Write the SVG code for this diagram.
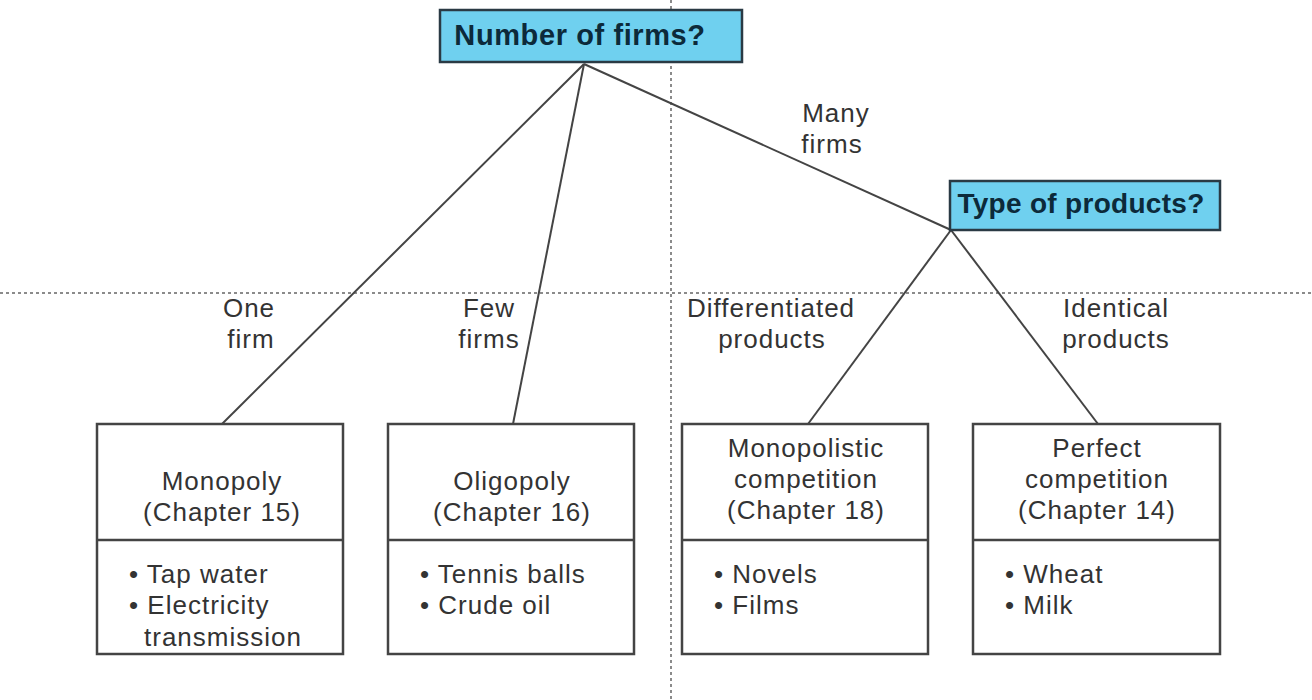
<svg xmlns="http://www.w3.org/2000/svg" width="1312" height="700" viewBox="0 0 1312 700">
<style>
.t{font-family:"Liberation Sans",Arial,sans-serif;font-size:26px;letter-spacing:1px;fill:#333;text-anchor:middle}
.b{font-family:"Liberation Sans",Arial,sans-serif;font-size:26px;letter-spacing:1px;fill:#333}
.q{font-family:"Liberation Sans",Arial,sans-serif;font-size:29px;letter-spacing:0.6px;font-weight:bold;fill:#0c2a3a;text-anchor:middle}
.q2{font-size:28px;letter-spacing:0.3px}
.box{fill:#fff;stroke:#444;stroke-width:2.5}
.qb{fill:#6fd0ef;stroke:#2a3a44;stroke-width:2.5}
.c{stroke:#444;stroke-width:2;fill:none}
.div{stroke:#444;stroke-width:2.5;fill:none}
.d{stroke:#666;stroke-width:1.5;stroke-dasharray:3 3;fill:none}
</style>
<rect width="1312" height="700" fill="#fff"/>
<g id="guides">
<line class="d" x1="671" y1="0" x2="671" y2="700"/>
<line class="d" x1="0" y1="293" x2="1312" y2="293"/>
</g>
<g id="connectors">
<line class="c" x1="584" y1="64" x2="222" y2="424"/>
<line class="c" x1="584" y1="64" x2="513" y2="424"/>
<line class="c" x1="584" y1="64" x2="951" y2="230"/>
<line class="c" x1="951" y1="230" x2="808" y2="424"/>
<line class="c" x1="951" y1="230" x2="1098" y2="424"/>
<text class="t" x="836" y="122">Many</text>
<text class="t" x="832" y="153">firms</text>
<text class="t" x="249" y="317">One</text>
<text class="t" x="251" y="348">firm</text>
<text class="t" x="489" y="317">Few</text>
<text class="t" x="489" y="348">firms</text>
<text class="t" x="771" y="317">Differentiated</text>
<text class="t" x="772" y="348">products</text>
<text class="t" x="1116" y="317">Identical</text>
<text class="t" x="1116" y="348">products</text>
</g>
<g id="q1">
<rect class="qb" x="440" y="10" width="302" height="52"/>
<text class="q" x="580" y="45">Number of firms?</text>
</g>
<g id="q2">
<rect class="qb" x="950" y="181" width="270" height="49"/>
<text class="q q2" x="1081" y="213">Type of products?</text>
</g>
<g id="monopoly">
<rect class="box" x="97" y="424" width="246" height="230"/>
<line class="div" x1="97" y1="540" x2="343" y2="540"/>
<text class="t" x="222" y="490">Monopoly</text>
<text class="t" x="222" y="521">(Chapter 15)</text>
<text class="b" x="129" y="583">• Tap water</text>
<text class="b" x="129" y="614">• Electricity</text>
<text class="b" x="144" y="646">transmission</text>
</g>
<g id="oligopoly">
<rect class="box" x="388" y="424" width="246" height="230"/>
<line class="div" x1="388" y1="540" x2="634" y2="540"/>
<text class="t" x="512" y="490">Oligopoly</text>
<text class="t" x="512" y="521">(Chapter 16)</text>
<text class="b" x="420" y="583">• Tennis balls</text>
<text class="b" x="420" y="614">• Crude oil</text>
</g>
<g id="monopolistic">
<rect class="box" x="682" y="424" width="246" height="230"/>
<line class="div" x1="682" y1="540" x2="928" y2="540"/>
<text class="t" x="806" y="457">Monopolistic</text>
<text class="t" x="806" y="488">competition</text>
<text class="t" x="806" y="519">(Chapter 18)</text>
<text class="b" x="714" y="583">• Novels</text>
<text class="b" x="714" y="614">• Films</text>
</g>
<g id="perfect">
<rect class="box" x="973" y="424" width="247" height="230"/>
<line class="div" x1="973" y1="540" x2="1220" y2="540"/>
<text class="t" x="1097" y="457">Perfect</text>
<text class="t" x="1097" y="488">competition</text>
<text class="t" x="1097" y="519">(Chapter 14)</text>
<text class="b" x="1005" y="583">• Wheat</text>
<text class="b" x="1005" y="614">• Milk</text>
</g>
</svg>
